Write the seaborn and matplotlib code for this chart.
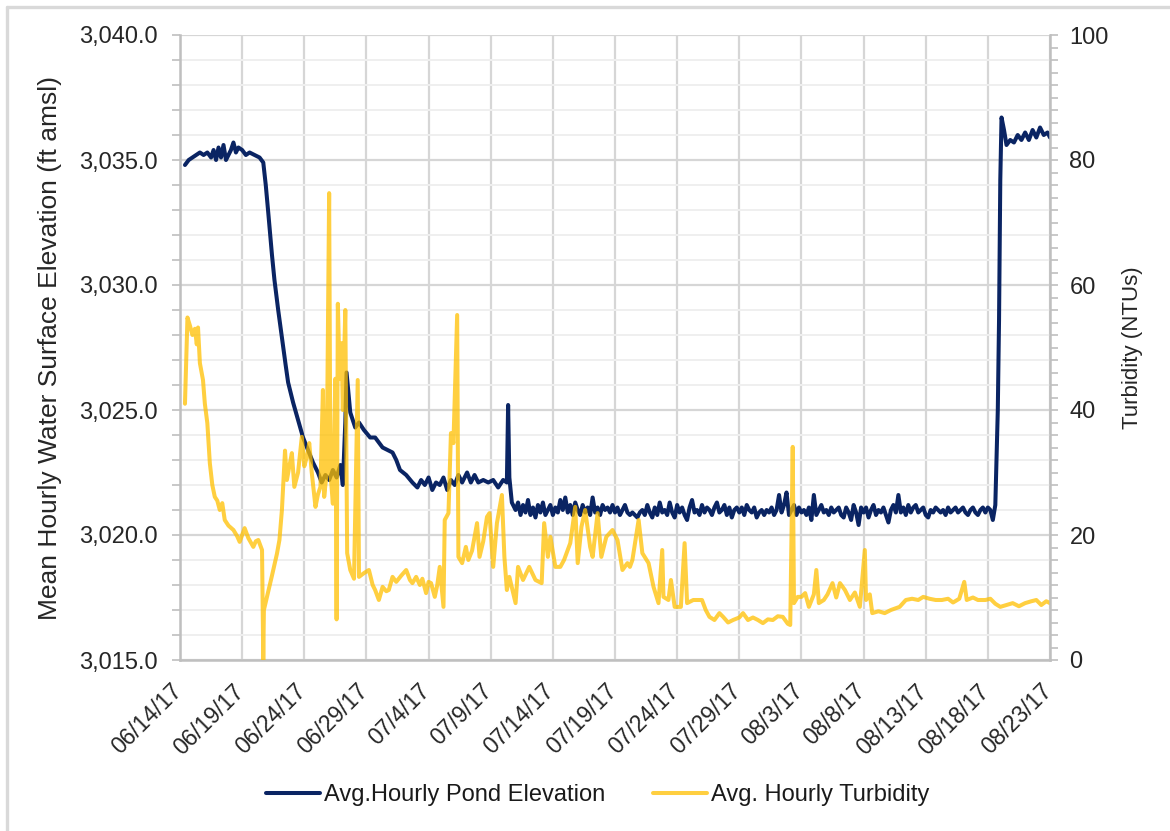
import pandas as pd
import matplotlib
matplotlib.use("Agg")
import matplotlib.pyplot as plt
import matplotlib.ticker as mticker
from matplotlib.lines import Line2D
from matplotlib.transforms import ScaledTranslation
import seaborn as sns

# ---- data -----------------------------------------------------------------
start_date = pd.Timestamp("2017-06-14")

# Pond elevation, drawdown period (days since start, ft amsl)
elev_day_early = [
    0.4, 0.7, 1.0, 1.3, 1.6, 1.9, 2.2, 2.5, 2.7, 2.9, 3.1, 3.3, 3.5, 3.7, 3.9,
    4.1, 4.3, 4.5, 4.7, 5.0, 5.3, 5.6, 6.0, 6.4, 6.7, 6.9, 7.1, 7.4, 7.6, 7.9,
    8.2, 8.5, 8.7, 9.1, 9.5, 9.9, 10.3, 10.7, 11.1, 11.4, 11.7, 12.0, 12.3,
    12.6, 12.9, 13.1, 13.3, 13.4, 13.7, 14.1, 14.4, 14.8, 15.3, 15.7, 16.3,
    17.1, 17.4, 17.7, 18.2, 18.7, 19.1, 19.4, 19.7, 20.0, 20.3, 20.6, 20.9,
    21.2, 21.5, 21.8, 22.1, 22.4, 22.7, 23.1, 23.4, 23.7, 24.0, 24.4, 24.8,
    25.2, 25.6, 26.0, 26.3, 26.4, 26.5, 26.7,
]
elev_ft_early = [
    3034.8, 3035.0, 3035.1, 3035.2, 3035.3, 3035.2, 3035.3, 3035.1, 3035.4,
    3035.0, 3035.5, 3035.1, 3035.6, 3035.0, 3035.2, 3035.4, 3035.7, 3035.3,
    3035.5, 3035.4, 3035.2, 3035.3, 3035.2, 3035.1, 3034.9, 3034.0, 3032.9,
    3031.2, 3030.2, 3029.0, 3027.9, 3026.8, 3026.1, 3025.3, 3024.6, 3023.9,
    3023.4, 3022.9, 3022.5, 3022.1, 3022.4, 3022.2, 3022.6, 3022.3, 3022.8,
    3022.0, 3024.5, 3026.5, 3024.9, 3024.3, 3024.5, 3024.2, 3023.9, 3023.9,
    3023.5, 3023.3, 3023.0, 3022.6, 3022.4, 3022.1, 3021.9, 3022.2, 3022.0,
    3022.3, 3021.8, 3022.1, 3022.0, 3022.3, 3021.8, 3022.2, 3022.0, 3022.4,
    3022.1, 3022.5, 3022.1, 3022.4, 3022.1, 3022.2, 3022.1, 3022.2, 3021.9,
    3022.2, 3022.1, 3025.2, 3022.3, 3021.3,
]

# Pond elevation, low-pool period: readings every 0.2 day from day 27.0
elev_flat_start = 27.0
elev_flat_step = 0.2
elev_ft_flat = [
    3021.0, 3021.3, 3020.8, 3021.2, 3020.9, 3021.4, 3020.8, 3021.1, 3020.7, 3021.2,
    3020.9, 3021.3, 3020.8, 3021.0, 3021.2, 3020.8, 3021.1, 3020.9, 3021.4, 3021.0,
    3021.5, 3020.9, 3021.2, 3020.8, 3021.3, 3021.0, 3020.8, 3021.2, 3020.9, 3021.1,
    3020.8, 3021.5, 3020.9, 3021.1, 3020.8, 3021.2, 3021.0, 3021.1, 3020.9, 3021.2,
    3020.9, 3021.1, 3020.8, 3021.0, 3021.2, 3020.9, 3020.8, 3020.9, 3020.8, 3020.7,
    3020.9, 3021.0, 3020.8, 3021.2, 3020.9, 3020.7, 3021.1, 3020.8, 3021.3, 3020.9,
    3021.0, 3020.8, 3021.3, 3020.9, 3020.7, 3021.2, 3020.9, 3021.1, 3020.8, 3020.6,
    3021.1, 3021.4, 3020.9, 3021.0, 3020.8, 3021.2, 3020.9, 3021.1, 3021.0, 3020.8,
    3021.1, 3021.3, 3020.9, 3021.0, 3021.2, 3020.8, 3021.1, 3020.7, 3021.0, 3021.1,
    3020.9, 3021.1, 3020.8, 3021.2, 3021.0, 3020.9, 3021.1, 3020.7, 3020.9, 3021.0,
    3020.8, 3021.0, 3020.9, 3021.1, 3020.8, 3021.0, 3021.6, 3020.9, 3021.2, 3021.7,
    3020.8, 3021.0, 3021.2, 3020.8, 3021.1, 3020.9, 3021.0, 3020.8, 3021.1, 3020.6,
    3021.6, 3020.8, 3021.0, 3021.2, 3020.9, 3021.0, 3020.8, 3021.1, 3020.9, 3021.0,
    3021.1, 3020.8, 3020.7, 3021.1, 3020.9, 3020.6, 3021.2, 3020.9, 3020.4, 3021.1,
    3020.9, 3021.1, 3020.7, 3021.0, 3021.2, 3020.8, 3021.0, 3020.9, 3021.1, 3020.8,
    3020.5, 3021.0, 3021.2, 3020.9, 3021.6, 3020.9, 3021.1, 3020.8, 3021.2, 3020.9,
    3021.1, 3021.2, 3020.9, 3021.0, 3021.1, 3020.8, 3020.7, 3021.0, 3020.9, 3021.1,
    3021.0, 3020.9, 3021.0, 3020.8, 3021.1, 3020.9, 3021.0, 3021.1, 3020.9, 3021.0,
    3021.1, 3020.9, 3020.8, 3021.0, 3021.1, 3020.9, 3020.8, 3021.0, 3021.1, 3020.9,
    3021.1, 3021.0, 3020.6,
]

# Pond elevation, refill (days since start, ft amsl)
elev_day_late = [
    65.6, 65.8, 65.9, 66.0, 66.1, 66.3, 66.5, 66.8, 67.1, 67.4, 67.7, 68.0,
    68.3, 68.6, 68.9, 69.2, 69.5, 69.8, 70.0,
]
elev_ft_late = [
    3021.2, 3025.0, 3028.6, 3034.2, 3036.7, 3036.2, 3035.6, 3035.8, 3035.7,
    3036.0, 3035.8, 3036.1, 3035.8, 3036.2, 3035.9, 3036.3, 3036.0, 3036.1,
    3035.9,
]

# Turbidity (days since start, NTU)
turb_day = [
    0.4, 0.6, 0.8, 1.0, 1.2, 1.35, 1.45, 1.6, 1.85, 2.0, 2.2, 2.4, 2.6, 2.8,
    3.0, 3.2, 3.4, 3.6, 3.9, 4.3, 4.6, 4.8, 5.0, 5.2, 5.5, 5.9, 6.1, 6.3, 6.6,
    6.7, 6.75, 7.0, 7.4, 7.8, 8.0, 8.2, 8.45, 8.6, 8.8, 9.0, 9.2, 9.5, 9.8,
    10.0, 10.2, 10.4, 10.6, 10.9, 11.1, 11.3, 11.5, 11.6, 11.8, 12.0, 12.1,
    12.3, 12.5, 12.6, 12.7, 12.85, 13.0, 13.1, 13.3, 13.45, 13.7, 14.0, 14.3,
    14.4, 14.8, 15.2, 15.5, 15.7, 16.0, 16.3, 16.6, 16.8, 17.1, 17.4, 17.8,
    18.2, 18.5, 18.7, 19.0, 19.3, 19.5, 19.8, 20.0, 20.2, 20.5, 20.7, 20.9,
    21.2, 21.3, 21.6, 21.8, 22.0, 22.3, 22.4, 22.7, 23.0, 23.2, 23.5, 23.9,
    24.1, 24.4, 24.7, 24.9, 25.2, 25.5, 25.9, 26.1, 26.3, 26.5, 27.0, 27.2,
    27.6, 28.1, 28.6, 29.1, 29.3, 29.6, 29.8, 30.2, 30.6, 30.9, 31.4, 31.8,
    32.0, 32.3, 32.6, 33.0, 33.2, 33.6, 33.9, 34.3, 34.8, 35.2, 35.6, 36.0,
    36.2, 36.4, 36.9, 37.2, 37.7, 38.1, 38.5, 38.8, 38.9, 39.3, 39.5, 39.8,
    40.3, 40.6, 40.8, 41.3, 42.0, 42.3, 42.6, 43.0, 43.4, 43.7, 44.1, 44.5,
    45.0, 45.3, 45.7, 46.1, 46.5, 46.9, 47.3, 47.7, 48.1, 48.5, 48.9, 49.1,
    49.3, 49.4, 49.7, 50.0, 50.3, 50.6, 51.0, 51.2, 51.4, 51.8, 52.1, 52.5,
    52.8, 53.1, 53.5, 53.9, 54.3, 54.7, 55.1, 55.2, 55.5, 55.7, 56.2, 56.7,
    57.2, 57.9, 58.4, 58.9, 59.4, 59.8, 60.3, 60.8, 61.3, 61.8, 62.2, 62.7,
    63.1, 63.3, 63.8, 64.2, 64.8, 65.2, 65.6, 66.0, 66.5, 67.0, 67.5, 68.0,
    68.5, 68.9, 69.3, 69.7, 70.0,
]
turb_ntu = [
    41.0, 54.8, 53.5, 52.0, 53.0, 50.5, 53.2, 47.5, 44.8, 41.0, 37.9, 31.5,
    28.0, 26.1, 25.5, 24.0, 25.1, 22.4, 21.5, 20.8, 19.8, 18.9, 20.0, 21.1,
    19.5, 18.1, 19.0, 19.2, 17.6, 0.0, 8.0, 10.1, 13.5, 17.0, 19.2, 24.0,
    33.5, 28.8, 31.0, 33.1, 27.7, 30.0, 35.7, 31.0, 32.5, 34.7, 30.0, 24.5,
    26.5, 27.7, 43.2, 26.1, 30.0, 74.7, 30.0, 25.0, 45.0, 6.5, 57.0, 45.0,
    50.7, 40.0, 56.0, 17.1, 14.4, 13.0, 44.8, 13.3, 13.9, 14.4, 12.0, 11.2,
    9.6, 11.7, 11.0, 11.2, 13.3, 12.5, 13.5, 14.4, 12.8, 12.3, 13.3, 12.0,
    13.0, 10.7, 12.5, 12.3, 10.1, 12.0, 14.9, 8.5, 22.4, 23.5, 36.3, 34.7,
    55.2, 16.5, 15.5, 18.1, 16.0, 17.5, 21.9, 16.5, 19.0, 22.9, 23.5, 14.9,
    21.9, 26.4, 16.5, 11.2, 13.3, 9.1, 14.9, 12.8, 14.9, 12.8, 12.3, 21.9,
    16.5, 19.7, 14.9, 14.9, 16.0, 18.7, 24.5, 15.5, 21.3, 24.0, 18.1, 16.5,
    23.5, 16.5, 19.7, 20.8, 19.2, 14.4, 15.5, 14.9, 16.0, 22.4, 17.1, 15.5,
    11.7, 9.1, 17.6, 10.1, 9.6, 12.8, 8.5, 8.5, 18.7, 9.1, 9.6, 9.6, 8.0,
    6.9, 6.4, 7.5, 6.9, 6.0, 6.4, 6.8, 7.5, 6.4, 6.8, 6.4, 5.9, 6.5, 6.4,
    7.0, 6.9, 5.8, 5.6, 34.1, 9.1, 10.1, 10.1, 10.7, 8.5, 10.5, 14.4, 9.1,
    9.6, 10.5, 12.3, 10.0, 12.3, 11.2, 9.6, 10.8, 8.5, 17.6, 9.6, 10.5, 7.5,
    7.8, 7.5, 8.0, 8.5, 9.6, 9.8, 9.6, 10.1, 9.8, 9.6, 9.6, 9.8, 9.2, 9.8,
    12.5, 9.6, 10.0, 9.6, 9.6, 9.8, 9.0, 8.5, 8.8, 9.1, 8.6, 9.1, 9.4, 9.6,
    8.8, 9.4, 9.1,
]

tick_day = [0, 5, 10, 15, 20, 25, 30, 35, 40, 45, 50, 55, 60, 65, 70]
tick_labels = [
    "06/14/17", "06/19/17", "06/24/17", "06/29/17", "07/4/17", "07/9/17",
    "07/14/17", "07/19/17", "07/24/17", "07/29/17", "08/3/17", "08/8/17",
    "08/13/17", "08/18/17", "08/23/17",
]

elev_label = "Avg.Hourly Pond Elevation"
turb_label = "Avg. Hourly Turbidity"

# ---- frames ---------------------------------------------------------------
elev_day_flat = [elev_flat_start + elev_flat_step * i for i in range(len(elev_ft_flat))]
elev_days = elev_day_early + elev_day_flat + elev_day_late
elev_vals = elev_ft_early + elev_ft_flat + elev_ft_late

elev = pd.DataFrame({"time": start_date + pd.to_timedelta(elev_days, unit="D"),
                     "elev": elev_vals})
turb = pd.DataFrame({"time": start_date + pd.to_timedelta(turb_day, unit="D"),
                     "turb": turb_ntu})
tick_times = start_date + pd.to_timedelta(tick_day, unit="D")

# ---- style ----------------------------------------------------------------
sns.set_theme(style="white")
plt.rcParams["font.family"] = ["Liberation Sans", "DejaVu Sans"]
plt.rcParams["text.color"] = "#1a1a1a"

NAVY = "#0a2463"
GOLD = "#FFC000"
GRID = "#d6d6d6"
GRID_MINOR = "#efefef"
AXIS = "#bfbfbf"
LW = 2.9

fig = plt.figure(figsize=(11.7, 8.31), dpi=100)
ax = fig.add_axes([180 / 1170, 1 - 660 / 831, 870 / 1170, 625 / 831])
ax2 = ax.twinx()

sns.lineplot(data=elev, x="time", y="elev", ax=ax, color=NAVY, lw=LW,
             estimator=None, sort=False, legend=False)
sns.lineplot(data=turb, x="time", y="turb", ax=ax2, color=GOLD, lw=LW,
             alpha=0.75, estimator=None, sort=False, legend=False)

# left axis: elevation
ax.set_xlim(tick_times[0], tick_times[-1])
ax.set_ylim(3015, 3040)
ax.yaxis.set_major_locator(mticker.MultipleLocator(5))
ax.yaxis.set_minor_locator(mticker.MultipleLocator(1))
ax.yaxis.set_major_formatter(mticker.FuncFormatter(lambda v, p: f"{v:,.1f}"))
ax.set_xticks(tick_times)
ax.set_xticklabels(tick_labels, rotation=45, ha="right", va="center",
                   rotation_mode="anchor", fontsize=16.5)
ax.set_xlabel("")
ax.set_ylabel("Mean Hourly Water Surface Elevation (ft amsl)", fontsize=19,
              labelpad=12)

ax.grid(which="major", axis="both", color=GRID, lw=1.6)
ax.grid(which="minor", axis="y", color=GRID_MINOR, lw=1.4)
ax.set_axisbelow(True)

ax.tick_params(axis="y", which="both", direction="out", length=6, width=1.2,
               color=AXIS, labelsize=17, pad=10, left=True)
ax.tick_params(axis="x", length=0, pad=10)

for side in ("top", "right"):
    ax.spines[side].set_visible(False)
for side in ("left", "bottom"):
    ax.spines[side].set_color(AXIS)
    ax.spines[side].set_linewidth(1.8)

# right axis: turbidity
ax2.set_ylim(0, 100)
ax2.yaxis.set_major_locator(mticker.MultipleLocator(20))
ax2.yaxis.set_minor_locator(mticker.MultipleLocator(2))
ax2.set_ylabel("Turbidity (NTUs)", fontsize=16, labelpad=9.5)
ax2.tick_params(axis="y", which="both", direction="out", length=6, width=1.2,
                color=AXIS, labelsize=17, pad=8, right=True)
ax2.grid(False)
for side in ("top", "left", "bottom"):
    ax2.spines[side].set_visible(False)
ax2.spines["right"].set_color(AXIS)
ax2.spines["right"].set_linewidth(1.8)

# nudge the slanted date labels so their ends sit under the gridlines
shift = ScaledTranslation(-2 / 100, -14 / 100, fig.dpi_scale_trans)
for lab in ax.get_xticklabels():
    lab.set_transform(lab.get_transform() + shift)

# legend below the plot
handles = [Line2D([], [], color=NAVY, lw=LW),
           Line2D([], [], color=GOLD, lw=LW, alpha=0.75)]
fig.legend(handles, [elev_label, turb_label], loc="center",
           bbox_to_anchor=(0.511, 1 - 795 / 831), ncol=2, frameon=False,
           fontsize=17, handlelength=2.3, handletextpad=0.17,
           columnspacing=2.0)

# thin outer frame on the top and left edges
fig.add_artist(Line2D([7 / 1170, 7 / 1170], [0, 1 - 7 / 831],
                      transform=fig.transFigure, color="#d9d9d9", lw=2.4))
fig.add_artist(Line2D([7 / 1170, 1], [1 - 7 / 831, 1 - 7 / 831],
                      transform=fig.transFigure, color="#d9d9d9", lw=2.4))

fig.savefig("out.png", dpi=100, facecolor="white")
